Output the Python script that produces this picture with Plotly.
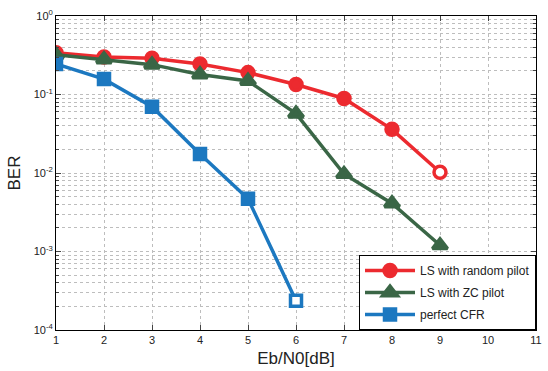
import plotly.graph_objects as go

ebn0 = [1, 2, 3, 4, 5, 6, 7, 8, 9]
ber_random = [0.34, 0.30, 0.29, 0.245, 0.19, 0.134, 0.089, 0.036, 0.0102]
ebn0_zc = [1, 2, 3, 4, 5, 6, 7, 8, 9]
ber_zc = [0.32, 0.28, 0.24, 0.18, 0.149, 0.057, 0.0097, 0.0041, 0.0012]
ebn0_perfect = [1, 2, 3, 4, 5, 6]
ber_perfect = [0.245, 0.157, 0.070, 0.0175, 0.0047, 0.000236]

names = ["LS with random pilot", "LS with ZC pilot", "perfect CFR"]
colors = ["#EC2A2F", "#3A6646", "#1C78C0"]
symbols = ["circle", "triangle-up", "square"]
sizes = [12, 13, 11]
hollow_last = [True, False, True]

ytickvals = [1e-4, 1e-3, 1e-2, 1e-1, 1]
yticktext = ["10<sup>-4</sup>", "10<sup>-3</sup>", "10<sup>-2</sup>", "10<sup>-1</sup>", "10<sup>0</sup>"]
xtickvals = list(range(1, 12))

fig = go.Figure()
for xs, ys, name, c, s, sz, h in zip([ebn0, ebn0_zc, ebn0_perfect],
                                     [ber_random, ber_zc, ber_perfect],
                                     names, colors, symbols, sizes, hollow_last):
    fills = [c] * (len(xs) - 1) + ["white" if h else c]
    fig.add_trace(go.Scatter(
        x=xs, y=ys, name=name, mode="lines+markers", legendgroup=name,
        line=dict(color=c, width=3.5),
        marker=dict(symbol=s, size=sz, color=fills, line=dict(color=c, width=3.5)),
    ))

gridc = "#BDBDBD"
grid = dict(showgrid=True, gridcolor=gridc, griddash="dot", gridwidth=1)
fig.update_layout(
    width=548, height=371,
    margin=dict(l=56, r=6, t=16, b=41),
    paper_bgcolor="white", plot_bgcolor="white",
    font=dict(family="Liberation Sans, Arial, sans-serif", size=11, color="#222"),
    showlegend=True,
    legend=dict(x=1, y=0, xanchor="right", yanchor="bottom",
                bgcolor="white", bordercolor="black", borderwidth=1,
                font=dict(size=12), itemwidth=50, tracegroupgap=3),
    xaxis=dict(range=[1, 11], tickvals=xtickvals, ticks="inside", ticklen=5,
               showline=True, linecolor="black", linewidth=1, mirror="allticks",
               title=dict(text="Eb/N0[dB]", font=dict(size=17), standoff=6),
               zeroline=False, **grid),
    yaxis=dict(type="log", range=[-4, 0], tickvals=ytickvals, ticktext=yticktext,
               ticks="inside", ticklen=5,
               showline=True, linecolor="black", linewidth=1, mirror="allticks",
               title=dict(text="BER", font=dict(size=17), standoff=8),
               minor=dict(ticks="inside", ticklen=3, showgrid=True,
                          gridcolor=gridc, griddash="dot", dtick="D1"),
               zeroline=False, **grid),
)
fig.write_html("out.html")
